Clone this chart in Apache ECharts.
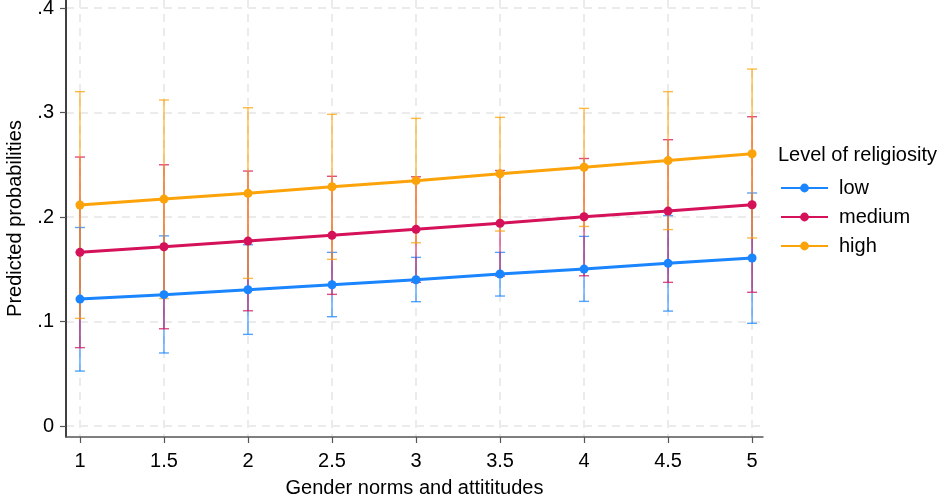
<!DOCTYPE html>
<html>
<head>
<meta charset="utf-8">
<script src="https://cdn.jsdelivr.net/npm/echarts@6/dist/echarts.min.js"></script>
<style>html,body{margin:0;padding:0;background:#fff;}#c{width:940px;height:499px;}</style>
</head>
<body>
<div id="c"></div>
<script>
var xs = [1, 1.5, 2, 2.5, 3, 3.5, 4, 4.5, 5];
var xTicks = [1, 1.5, 2, 2.5, 3, 3.5, 4, 4.5, 5];
var yTicks = [0, 0.1, 0.2, 0.3, 0.4];
var seriesNames = ['low', 'medium', 'high'];
var low = [0.1215, 0.1257, 0.1304, 0.1352, 0.1400, 0.1455, 0.1502, 0.1557, 0.1608];
var lowLo = [0.0526, 0.0699, 0.0877, 0.1046, 0.1190, 0.1244, 0.1193, 0.1100, 0.0983];
var lowHi = [0.1900, 0.1820, 0.1735, 0.1662, 0.1614, 0.1662, 0.1815, 0.2013, 0.2230];
var medium = [0.1662, 0.1716, 0.1770, 0.1825, 0.1882, 0.1940, 0.2003, 0.2057, 0.2118];
var mediumLo = [0.0750, 0.0931, 0.1103, 0.1260, 0.1375, 0.1435, 0.1438, 0.1375, 0.1280];
var mediumHi = [0.2574, 0.2500, 0.2440, 0.2390, 0.2385, 0.2445, 0.2560, 0.2740, 0.2960];
var high = [0.2115, 0.2172, 0.2227, 0.2290, 0.2348, 0.2414, 0.2476, 0.2540, 0.2606];
var highLo = [0.1030, 0.1220, 0.1413, 0.1595, 0.1754, 0.1866, 0.1910, 0.1880, 0.1800];
var highHi = [0.3200, 0.3120, 0.3046, 0.2983, 0.2944, 0.2954, 0.3040, 0.3200, 0.3416];
var colors = ['#1a85ff', '#d41159', '#fca30a'];

var FONT = 'Liberation Sans';
var FS = 20;
var chart = echarts.init(document.getElementById('c'), null, {renderer: 'canvas'});

function pts(v) { return xs.map(function (x, i) { return [x, v[i]]; }); }
function ciData(lo, hi) { return xs.map(function (x, i) { return [x, lo[i], hi[i]]; }); }

function ciSeries(name, lo, hi, color) {
  return {
    type: 'custom', name: name + ' CI', z: 2, silent: true,
    data: ciData(lo, hi),
    renderItem: function (params, api) {
      var x = api.value(0);
      var pLo = api.coord([x, api.value(1)]);
      var pHi = api.coord([x, api.value(2)]);
      var cw = 5;
      var st = {stroke: color, lineWidth: 1.4, opacity: 0.75};
      return {
        type: 'group',
        children: [
          {type: 'line', shape: {x1: pLo[0], y1: pLo[1], x2: pHi[0], y2: pHi[1]}, style: st},
          {type: 'line', shape: {x1: pLo[0] - cw, y1: pLo[1], x2: pLo[0] + cw, y2: pLo[1]}, style: st},
          {type: 'line', shape: {x1: pHi[0] - cw, y1: pHi[1], x2: pHi[0] + cw, y2: pHi[1]}, style: st}
        ]
      };
    }
  };
}
function lineSeries(name, v, color) {
  return {
    type: 'line', name: name, z: 5, data: pts(v),
    symbol: 'circle', symbolSize: 9,
    lineStyle: {color: color, width: 3},
    itemStyle: {color: color},
    emphasis: {disabled: true}
  };
}

var option = {
  animation: false,
  backgroundColor: '#fff',
  textStyle: {fontFamily: FONT},
  title: {
    text: 'Level of religiosity', left: 773, top: 140,
    textStyle: {fontFamily: FONT, fontSize: FS, fontWeight: 'normal', color: '#000'}
  },
  legend: {
    orient: 'vertical', left: 780, top: 178, padding: 0,
    itemWidth: 47, itemHeight: 11, itemGap: 9,
    data: seriesNames,
    textStyle: {fontFamily: FONT, fontSize: FS, color: '#000', padding: [0, 0, 0, 6]}
  },
  grid: {left: 66, right: 177, top: 0, bottom: 62, containLabel: false, outerBoundsMode: 'none'},
  xAxis: {
    type: 'value', min: 0.917, max: 5.065,
    name: 'Gender norms and attititudes', nameLocation: 'middle', nameGap: 41,
    nameTextStyle: {fontFamily: FONT, fontSize: FS, color: '#000'},
    axisLine: {show: true, onZero: false, lineStyle: {color: '#555', width: 1.5}},
    axisTick: {show: true, length: 6, customValues: xTicks, lineStyle: {color: '#555', width: 1.2}},
    axisLabel: {customValues: xTicks, fontFamily: FONT, fontSize: FS, color: '#000', margin: 14},
    splitLine: {show: true, lineStyle: {color: '#ebebeb', width: 2, type: [8, 6]}}
  },
  yAxis: {
    type: 'value', min: -0.0105, max: 0.4077,
    name: 'Predicted probabilities', nameLocation: 'middle', nameGap: 41, nameRotate: 90,
    nameTextStyle: {fontFamily: FONT, fontSize: FS, color: '#000'},
    axisLine: {show: true, onZero: false, lineStyle: {color: '#000', width: 1.5}},
    axisTick: {show: true, length: 6, customValues: yTicks, lineStyle: {color: '#555', width: 1.2}},
    axisLabel: {
      customValues: yTicks, fontFamily: FONT, fontSize: FS, color: '#000', margin: 12,
      formatter: function (v) { return v === 0 ? '0' : String(Math.round(v * 10) / 10).replace(/^0/, ''); }
    },
    splitLine: {show: true, lineStyle: {color: '#ebebeb', width: 2, type: [8, 6]}}
  },
  series: [
    ciSeries('low', lowLo, lowHi, colors[0]),
    ciSeries('medium', mediumLo, mediumHi, colors[1]),
    ciSeries('high', highLo, highHi, colors[2]),
    lineSeries('low', low, colors[0]),
    lineSeries('medium', medium, colors[1]),
    lineSeries('high', high, colors[2])
  ]
};
chart.setOption(option);
</script>
</body>
</html>
